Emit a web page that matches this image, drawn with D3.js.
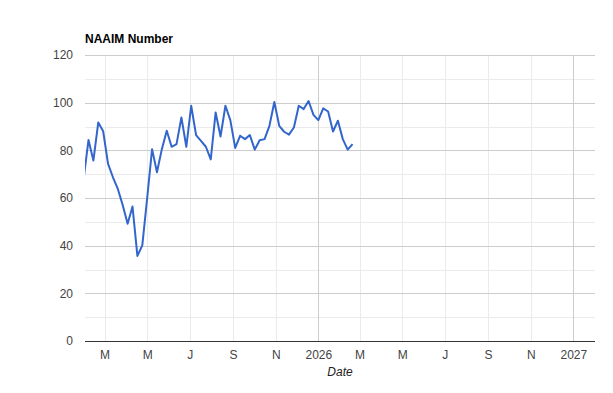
<!DOCTYPE html>
<html>
<head>
<meta charset="utf-8">
<script src="https://cdn.jsdelivr.net/npm/d3@7"></script>
<style>
  body { margin: 0; background: #fff; }
  text { font-family: Arial, "Liberation Sans", sans-serif; }
</style>
</head>
<body>
<div id="chart"></div>
<script>
// weekly NAAIM exposure readings
var dates = [
  "2025-01-30", "2025-02-06", "2025-02-13", "2025-02-20", "2025-02-27",
  "2025-03-06", "2025-03-13", "2025-03-20", "2025-03-27", "2025-04-03",
  "2025-04-10", "2025-04-17", "2025-04-24", "2025-05-01", "2025-05-08",
  "2025-05-15", "2025-05-22", "2025-05-29", "2025-06-05", "2025-06-12",
  "2025-06-19", "2025-06-26", "2025-07-03", "2025-07-10", "2025-07-17",
  "2025-07-24", "2025-07-31", "2025-08-07", "2025-08-14", "2025-08-21",
  "2025-08-28", "2025-09-04", "2025-09-11", "2025-09-18", "2025-09-25",
  "2025-10-02", "2025-10-09", "2025-10-16", "2025-10-23", "2025-10-30",
  "2025-11-06", "2025-11-13", "2025-11-20", "2025-11-27", "2025-12-04",
  "2025-12-11", "2025-12-18", "2025-12-25", "2026-01-01", "2026-01-08",
  "2026-01-15", "2026-01-22", "2026-01-29", "2026-02-05", "2026-02-12",
  "2026-02-19"
];
var naaim = [
  68, 84.3, 75.7, 91.7, 88,
  74.3, 68.7, 63.8, 57, 49.2,
  56.4, 35.7, 40.1, 60, 80.5,
  70.8, 80.5, 88.2, 81.5, 82.6,
  93.8, 81.5, 98.7, 86.4, 84,
  81.5, 76.2, 95.9, 85.8, 98.7,
  92.7, 81, 86.1, 84.7, 86.4,
  80.3, 84.2, 84.7, 90.3, 100.3,
  90.3, 87.8, 86.6, 89.6, 98.7,
  97.3, 100.7, 94.9, 92.7, 97.6,
  96.3, 87.9, 92.4, 84.7, 80.3,
  82.6
];

var xTicks = ["2025-03-01", "2025-05-01", "2025-07-01", "2025-09-01", "2025-11-01", "2026-01-01",
              "2026-03-01", "2026-05-01", "2026-07-01", "2026-09-01", "2026-11-01", "2027-01-01"];
var xTickLabels = ["M", "M", "J", "S", "N", "2026", "M", "M", "J", "S", "N", "2027"];
var yTicks = [0, 20, 40, 60, 80, 100, 120];
var yMinor = [10, 30, 50, 70, 90, 110];
var xDomain = ["2025-02-01", "2027-02-01"];

var parse = d3.timeParse("%Y-%m-%d");
var data = dates.map(function (d, i) { return { date: parse(d), value: naaim[i] }; });

var margin = { top: 55, right: 18, bottom: 52, left: 85 },
    width = 613 - margin.left - margin.right,
    height = 393 - margin.top - margin.bottom;

var svg = d3.select("#chart")
    .append("svg")
    .attr("width", 613)
    .attr("height", 393);

var g = svg.append("g")
    .attr("transform", "translate(" + margin.left + "," + margin.top + ")");

var x = d3.scaleTime()
    .domain(xDomain.map(parse))
    .range([0, width]);

var y = d3.scaleLinear()
    .domain([0, 120])
    .range([height, 0]);

// minor horizontal gridlines
g.selectAll(".yminor")
    .data(yMinor)
    .enter()
    .append("line")
    .attr("x1", 0).attr("x2", width)
    .attr("y1", function (d) { return Math.round(y(d)) + 0.5; })
    .attr("y2", function (d) { return Math.round(y(d)) + 0.5; })
    .attr("stroke", "#ebebeb");

// vertical gridlines (years a bit darker)
g.selectAll(".xgrid")
    .data(xTicks)
    .enter()
    .append("line")
    .attr("x1", function (d) { return Math.round(x(parse(d))) + 0.5; })
    .attr("x2", function (d) { return Math.round(x(parse(d))) + 0.5; })
    .attr("y1", 0).attr("y2", height)
    .attr("stroke", function (d, i) { return /^\d+$/.test(xTickLabels[i]) ? "#cccccc" : "#ebebeb"; });

// major horizontal gridlines
g.selectAll(".ymajor")
    .data(yTicks.slice(1))
    .enter()
    .append("line")
    .attr("x1", 0).attr("x2", width)
    .attr("y1", function (d) { return Math.round(y(d)) + 0.5; })
    .attr("y2", function (d) { return Math.round(y(d)) + 0.5; })
    .attr("stroke", "#cccccc");

// Y axis labels
var yAxis = g.append("g")
    .call(d3.axisLeft(y).tickValues(yTicks).tickSize(0).tickPadding(12));
yAxis.select(".domain").remove();
yAxis.selectAll("text")
    .attr("fill", "#444")
    .style("font-size", "12px")
    .style("font-family", "Arial, 'Liberation Sans', sans-serif");

// X axis labels
var xAxis = g.append("g")
    .attr("transform", "translate(0," + height + ")")
    .call(d3.axisBottom(x)
        .tickValues(xTicks.map(parse))
        .tickFormat(function (d, i) { return xTickLabels[i]; })
        .tickSize(0)
        .tickPadding(9));
xAxis.select(".domain").remove();
xAxis.selectAll("text")
    .attr("fill", "#444")
    .style("font-size", "12px")
    .style("font-family", "Arial, 'Liberation Sans', sans-serif");

// baseline
g.append("line")
    .attr("x1", 0).attr("x2", width)
    .attr("y1", Math.round(y(0)) + 0.5).attr("y2", Math.round(y(0)) + 0.5)
    .attr("stroke", "#333");

// clip the line to the plot area
svg.append("defs").append("clipPath")
    .attr("id", "plot-clip")
    .append("rect")
    .attr("width", width)
    .attr("height", height);

g.append("path")
    .datum(data)
    .attr("clip-path", "url(#plot-clip)")
    .attr("fill", "none")
    .attr("stroke", "#3366cc")
    .attr("stroke-width", 2)
    .attr("stroke-linejoin", "round")
    .attr("d", d3.line()
        .x(function (d) { return x(d.date); })
        .y(function (d) { return y(d.value); }));

// Title
svg.append("text")
    .attr("x", margin.left)
    .attr("y", 43)
    .style("font-size", "12px")
    .style("font-weight", "bold")
    .attr("fill", "#000")
    .text("NAAIM Number");

// X axis title
svg.append("text")
    .attr("text-anchor", "middle")
    .attr("x", margin.left + width / 2)
    .attr("y", 376)
    .style("font-size", "12px")
    .style("font-style", "italic")
    .attr("fill", "#222")
    .text("Date");
</script>
</body>
</html>
